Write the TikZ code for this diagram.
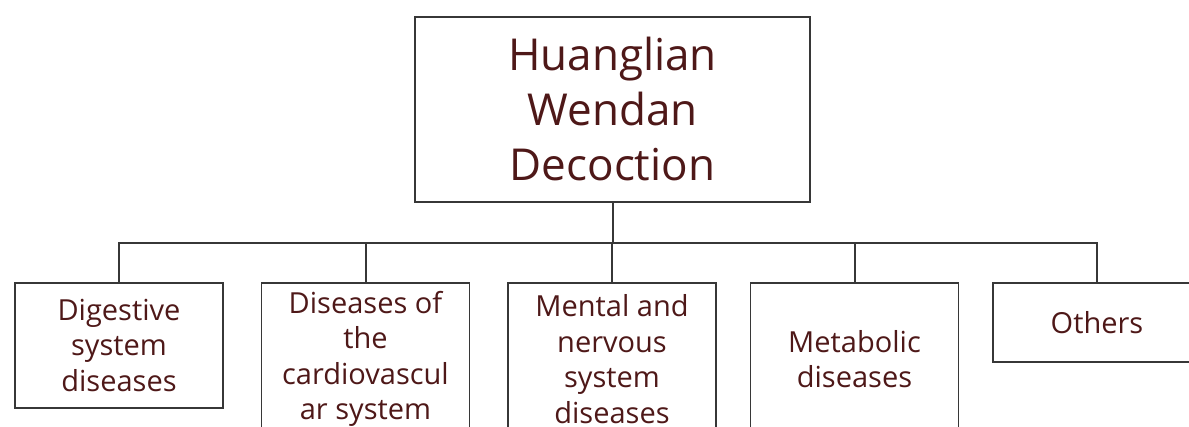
\documentclass[tikz,border=0pt]{standalone}
\usepackage{fontspec}
\setmainfont{Open Sans}
\usepackage{tikz}
\definecolor{txtred}{RGB}{78,24,24}
\definecolor{linegray}{RGB}{55,55,55}

\begin{document}
\begin{tikzpicture}[x=1pt,y=1pt,
    box/.style={draw=linegray,line width=1.8pt,text=txtred,align=center,inner sep=0pt},
    kid/.style={box,anchor=north,minimum width=208,font=\fontsize{29}{35.5}\selectfont},
    link/.style={draw=linegray,line width=2pt}]
    \useasboundingbox (0,0) rectangle (1189,-427);
    \clip (0,0) rectangle (1189,-427);
    \node[box,minimum width=395,minimum height=185,font=\fontsize{44}{55}\selectfont] (hwd) at (612.5,-109.5) {Huanglian\\Wendan\\Decoction};
    \node[kid,minimum height=125] (dig) at (119,-282) {Digestive\\system\\diseases};
    \node[kid,minimum height=152] (card) at (365.5,-282) {Diseases of\\the\\cardiovascul\\ar system};
    \node[kid,minimum height=152] (ment) at (612,-282) {Mental and\\nervous\\system\\diseases};
    \node[kid,minimum height=152] (meta) at (854.5,-282) {Metabolic\\diseases};
    \node[kid,minimum height=79] (oth) at (1097,-282) {Others};
    \draw[link] (hwd.south) -- ++(0,-40) coordinate (bus);
    \foreach \k in {dig,card,ment,meta,oth}
        \draw[link] (bus) -| (\k.north);
\end{tikzpicture}
\end{document}
